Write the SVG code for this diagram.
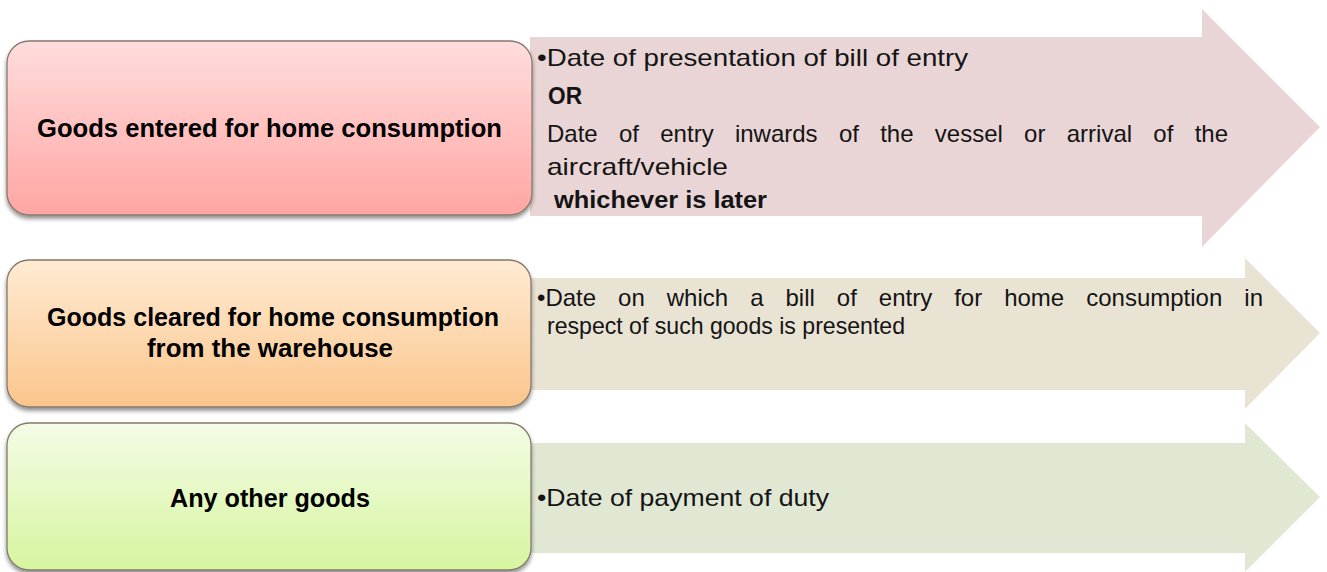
<svg xmlns="http://www.w3.org/2000/svg" width="1327" height="572" viewBox="0 0 1327 572">
<defs>
<linearGradient id="g1" x1="0" y1="0" x2="0" y2="1"><stop offset="0" stop-color="#ffdddd"/><stop offset="1" stop-color="#ffa6a3"/></linearGradient>
<linearGradient id="g2" x1="0" y1="0" x2="0" y2="1"><stop offset="0" stop-color="#ffebd3"/><stop offset="1" stop-color="#fbc58c"/></linearGradient>
<linearGradient id="g3" x1="0" y1="0" x2="0" y2="1"><stop offset="0" stop-color="#f4fce6"/><stop offset="1" stop-color="#d6f59f"/></linearGradient>
<filter id="sh" x="-5%" y="-5%" width="110%" height="115%"><feGaussianBlur in="SourceAlpha" stdDeviation="2"/><feOffset dx="0" dy="3"/><feComponentTransfer><feFuncA type="linear" slope="0.45"/></feComponentTransfer><feMerge><feMergeNode/><feMergeNode in="SourceGraphic"/></feMerge></filter>
</defs>
<style>
.box{stroke:#857a6c;stroke-width:1.3;filter:url(#sh)}
.bt{font-family:"Liberation Sans",Arial,sans-serif;font-weight:bold;font-size:25px;fill:#000;text-anchor:middle}
.at{font-family:"Liberation Sans",Arial,sans-serif;font-size:24px;fill:#141414}
.b{font-weight:bold}
</style>
<rect width="1327" height="572" fill="#ffffff"/>
<g id="connectors">
<path id="arrow1" d="M530,37 H1202 V9 L1320,127 L1202,247 V216 H530 Z" fill="#e9d5d5"/>
<path id="arrow2" d="M530,278 H1245 V258 L1320,333 L1245,409 V390 H530 Z" fill="#e9e3d4"/>
<path id="arrow3" d="M530,443 H1245 V423 L1320,497 L1245,572 V553 H530 Z" fill="#e0e8d4"/>
</g>
<g id="node1">
<rect class="box" x="7" y="41" width="525" height="174" rx="22" fill="url(#g1)"/>
<text class="bt" x="269.5" y="137" textLength="465" lengthAdjust="spacingAndGlyphs">Goods entered for home consumption</text>
</g>
<g id="node2">
<rect class="box" x="7" y="260" width="524" height="147" rx="22" fill="url(#g2)"/>
<text class="bt" x="273" y="326" textLength="452" lengthAdjust="spacingAndGlyphs">Goods cleared for home consumption</text>
<text class="bt" x="270" y="357" textLength="246" lengthAdjust="spacingAndGlyphs">from the warehouse</text>
</g>
<g id="node3">
<rect class="box" x="7" y="423" width="524" height="147" rx="22" fill="url(#g3)"/>
<text class="bt" x="270" y="507" textLength="200" lengthAdjust="spacingAndGlyphs">Any other goods</text>
</g>
<g id="label1">
<text class="at" x="537" y="66" textLength="431" lengthAdjust="spacingAndGlyphs">•Date of presentation of bill of entry</text>
<text class="at b" x="548" y="104" textLength="34" lengthAdjust="spacingAndGlyphs">OR</text>
<text class="at" x="547" y="142" word-spacing="14.6" textLength="681" lengthAdjust="spacing">Date of entry inwards of the vessel or arrival of the</text>
<text class="at" x="547" y="175" textLength="181" lengthAdjust="spacingAndGlyphs">aircraft/vehicle</text>
<text class="at b" x="554" y="208" textLength="213" lengthAdjust="spacingAndGlyphs">whichever is later</text>
</g>
<g id="label2">
<text class="at" x="537" y="306" word-spacing="15.3" textLength="726" lengthAdjust="spacing">•Date on which a bill of entry for home consumption in</text>
<text class="at" x="547" y="334" textLength="358" lengthAdjust="spacingAndGlyphs">respect of such goods is presented</text>
</g>
<g id="label3">
<text class="at" x="537" y="506" textLength="292" lengthAdjust="spacingAndGlyphs">•Date of payment of duty</text>
</g>
</svg>
